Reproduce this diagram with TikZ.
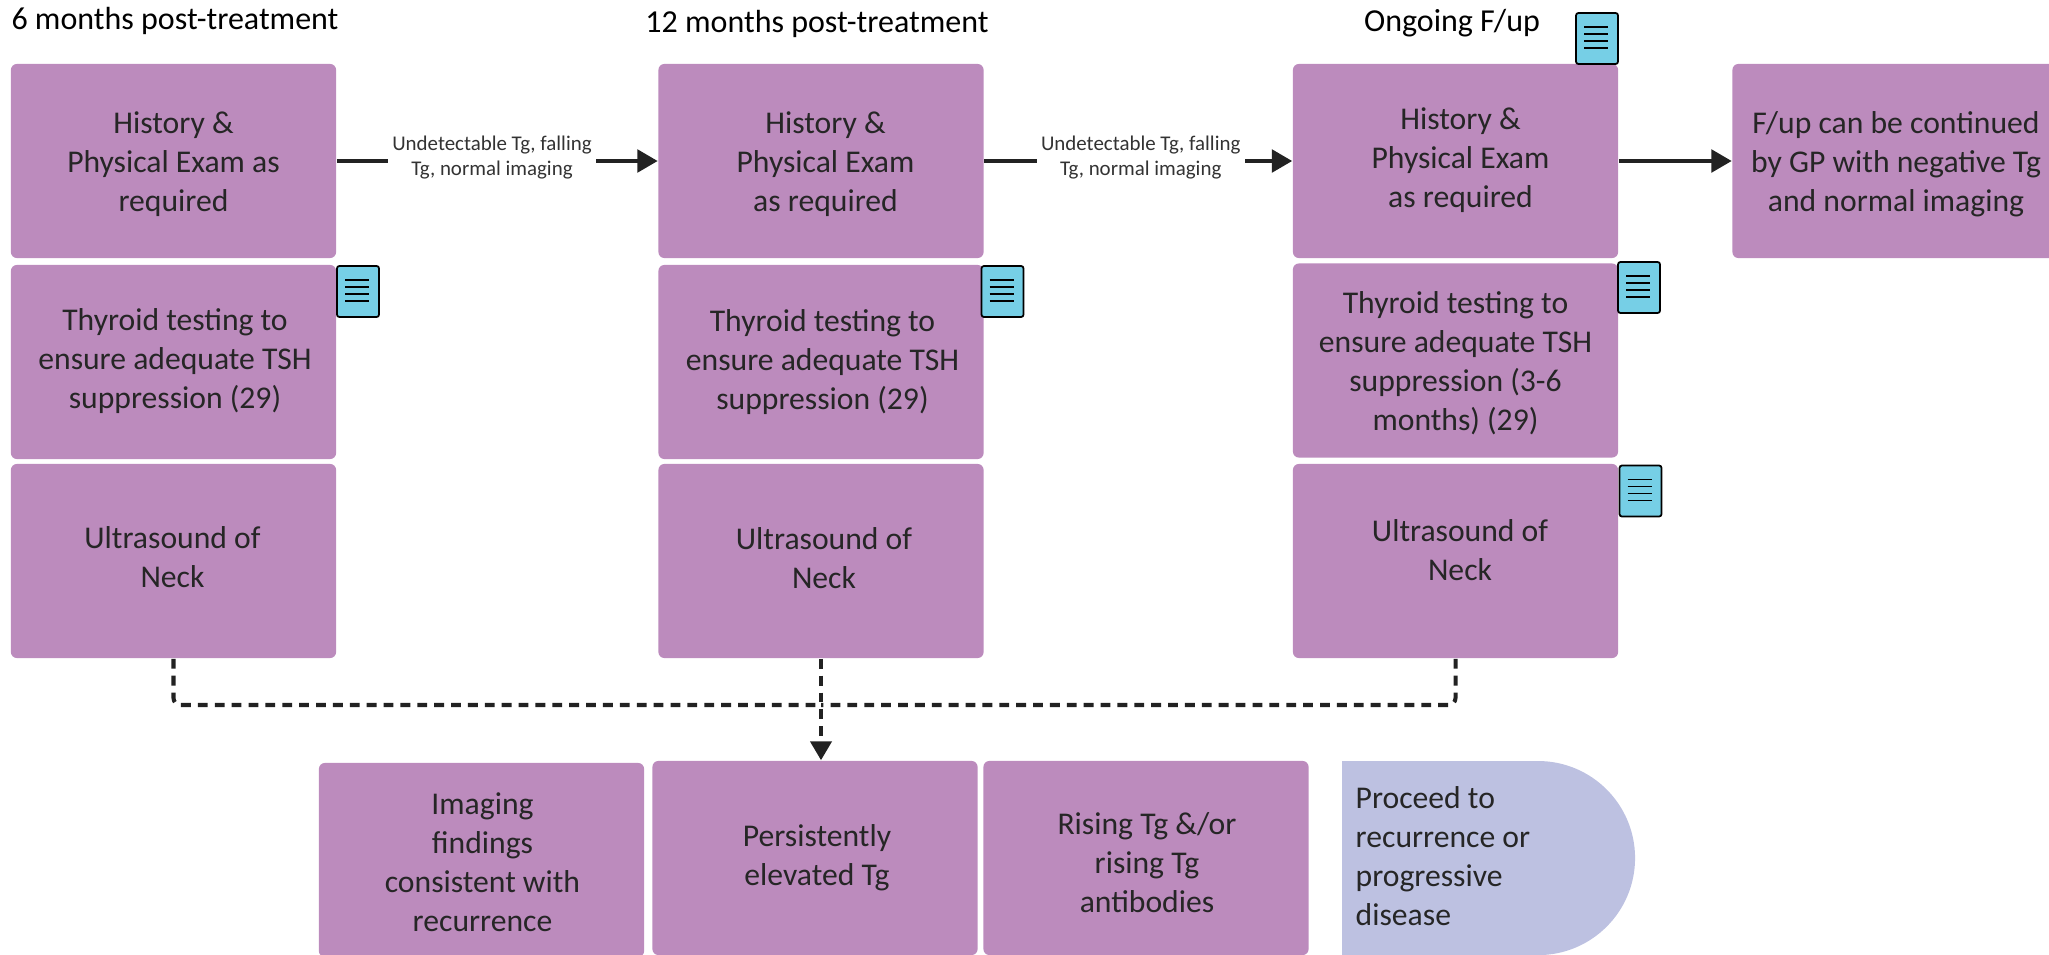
\documentclass[tikz,border=0pt]{standalone}
\usepackage{fontspec}
\setmainfont{Carlito}
\usetikzlibrary{arrows.meta,calc}
\definecolor{boxpurple}{HTML}{BC8BBD}
\definecolor{endblue}{HTML}{BDC1E1}
\definecolor{noteblue}{HTML}{76CFE6}
\definecolor{linegrey}{HTML}{222222}
\tikzstyle{stepbox}=[fill=boxpurple,rounded corners=1.7pt,minimum width=3.25cm,minimum height=1.94cm,inner sep=0pt]
\tikzstyle{steptext}=[inner sep=0pt,align=center,text=black!85,font=\fontsize{9}{11.1}\selectfont]
\tikzstyle{heading}=[inner sep=0pt,font=\fontsize{9.1}{11}\selectfont]
\tikzstyle{flowline}=[linegrey,line width=1.15pt,-{Triangle[length=5.8pt,width=6.4pt]}]
\tikzstyle{dashline}=[linegrey,line width=1.15pt,dash pattern=on 2.8pt off 2pt,rounded corners=2pt]
\tikzstyle{linklabel}=[fill=white,inner xsep=1.2pt,inner ysep=1pt,align=center,text=black!80,font=\fontsize{5.95}{7.3}\selectfont]
\tikzstyle{noteicon}=[draw=black,fill=noteblue,line width=0.5pt,rounded corners=0.7pt,minimum width=0.42cm,minimum height=0.51cm,inner sep=0pt]
\newcommand{\newstep}[5][0,0]{
	\node[stepbox] (#2) at (#3,#4) {};
	\node[steptext] (#2text) at ($(#2)+(#1)$) {#5};
}
\newcommand{\newnote}[3]{
	\node[noteicon] (#1) at (#2,#3) {};
	\foreach \k in {15,22,29,36} {
		\draw[line width=0.5pt] ($(#1.north west)+(9,\k)$) -- ++(24,0);
	}
}
\begin{document}
\begin{tikzpicture}[x=0.01cm,y=-0.01cm]
	\clip (0,0) rectangle (2049,954);
	% headings
	\node[heading] (head6) at (175,21) {6 months post-treatment};
	\node[heading] (head12) at (817,24) {12 months post-treatment};
	\node[heading] (headon) at (1452,23) {Ongoing F/up};
	% 6 months
	\newstep[0,3]{hist6}{173.5}{161}{History \&\\Physical Exam as\\required}
	\newstep[1.5,-1]{thy6}{173.5}{362}{Thyroid testing to\\ensure adequate TSH\\suppression (29)}
	\newstep[-1,-4]{us6}{173.5}{561}{Ultrasound of\\Neck}
	% 12 months
	\newstep[4.5,3]{hist12}{821}{161}{History \&\\Physical Exam\\as required}
	\newstep[1.5,0]{thy12}{821}{362}{Thyroid testing to\\ensure adequate TSH\\suppression (29)}
	\newstep[3,-3]{us12}{821}{561}{Ultrasound of\\Neck}
	% ongoing
	\newstep[5,-1]{histon}{1455.5}{161}{History \&\\Physical Exam\\as required}
	\newstep[0,3]{thyon}{1455.5}{360.5}{Thyroid testing to\\ensure adequate TSH\\suppression (3-6\\months) (29)}
	\newstep[4.5,-11]{uson}{1455.5}{561}{Ultrasound of\\Neck}
	\newstep[1,3]{gp}{1895}{161}{F/up can be continued\\by GP with negative Tg\\and normal imaging}
	% bottom row
	\newstep[1,2]{imaging}{481.5}{860}{Imaging\\findings\\consistent with\\recurrence}
	\newstep[2,0]{persist}{815}{858}{Persistently\\elevated Tg}
	\newstep[1,5]{rising}{1146}{858}{Rising Tg \&/or\\rising Tg\\antibodies}
	\fill[endblue] (1342,761) -- (1538,761) arc (90:-90:0.97cm) -- (1342,955) -- cycle;
	\node[steptext,anchor=west,align=left] (proceed) at (1355,856) {Proceed to\\recurrence or\\progressive\\disease};
	% arrows
	\draw[flowline] (hist6) -- node[linklabel,xshift=-1.5pt,yshift=1pt] (link6) {Undetectable Tg, falling\\Tg, normal imaging} (hist12);
	\draw[flowline] (hist12) -- node[linklabel,xshift=0.7pt,yshift=1pt] (link12) {Undetectable Tg, falling\\Tg, normal imaging} (histon);
	\draw[flowline] (histon) -- (gp);
	\coordinate (joint) at (821,705);
	\draw[dashline] (us6.south) |- (joint);
	\draw[dashline] (uson.south) |- (joint);
	\draw[dashline,-{Triangle[length=5.4pt,width=6pt]}] (us12.south) -- (us12.south |- persist.north);
	% notes
	\newnote{note6}{358}{291.5}
	\newnote{note12}{1002.5}{291.5}
	\newnote{notehist}{1597}{38.5}
	\newnote{notethy}{1639}{287.5}
	\newnote{noteus}{1640.5}{491}
\end{tikzpicture}
\end{document}
